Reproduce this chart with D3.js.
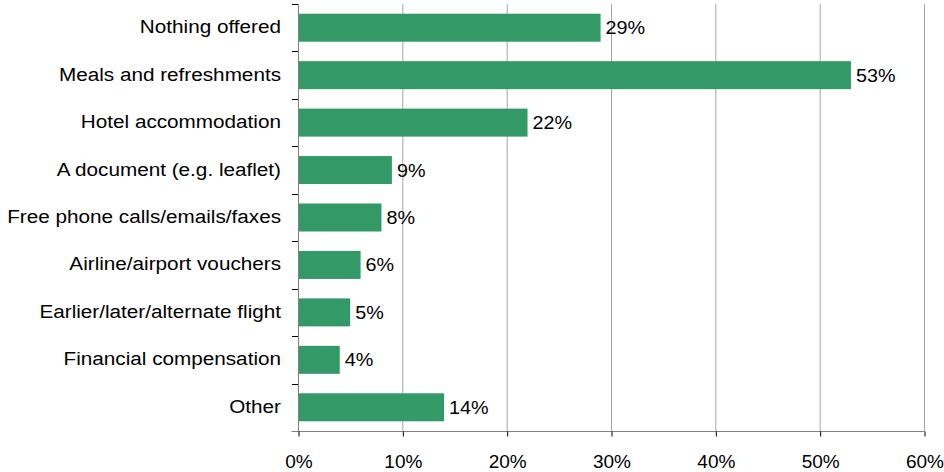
<!DOCTYPE html>
<html>
<head>
<meta charset="utf-8">
<script src="https://cdn.jsdelivr.net/npm/d3@7"></script>
<style>
  html, body { margin: 0; padding: 0; background: #fff; }
  svg { display: block; font-family: "Liberation Sans", Arial, sans-serif; }
</style>
</head>
<body>
<svg id="chart" width="944" height="472"></svg>
<script>
// What passengers were offered during the disruption (share of respondents, %)
const categories = [
  "Nothing offered",
  "Meals and refreshments",
  "Hotel accommodation",
  "A document (e.g. leaflet)",
  "Free phone calls/emails/faxes",
  "Airline/airport vouchers",
  "Earlier/later/alternate flight",
  "Financial compensation",
  "Other"
];
const values = [29, 53, 22, 9, 8, 6, 5, 4, 14];
const xTicks = [0, 10, 20, 30, 40, 50, 60];

const svg = d3.select("#chart");
const plotLeft = 298, plotRight = 924, plotTop = 4, plotBottom = 431;
const fontSize = 19;
const labelStretch = 1.09;   // slightly wide lettering for category names
const valueStretch = 1.04;
const barColor = "#339966";

const x = d3.scaleLinear().domain([0, 60]).range([plotLeft, plotRight]);
const y = d3.scaleBand().domain(categories).range([plotTop, plotBottom])
  .paddingInner(0.41).paddingOuter(0.205);

// vertical gridlines
svg.append("g")
  .selectAll("line")
  .data(xTicks.slice(1))
  .join("line")
  .attr("x1", d => x(d) + 0.5).attr("x2", d => x(d) + 0.5)
  .attr("y1", plotTop).attr("y2", plotBottom)
  .attr("stroke", "#a6a6a6").attr("stroke-width", 1);

// bars
svg.append("g")
  .selectAll("rect")
  .data(values)
  .join("rect")
  .attr("x", x(0))
  .attr("y", (d, i) => y(categories[i]))
  .attr("width", d => x(d) - x(0))
  .attr("height", y.bandwidth())
  .attr("fill", barColor);

// value labels
svg.append("g")
  .selectAll("text")
  .data(values)
  .join("text")
  .attr("transform", (d, i) =>
    `translate(${x(d) + 5},${y(categories[i]) + y.bandwidth() / 2 + 6.5}) scale(${valueStretch},1)`)
  .attr("font-size", fontSize)
  .attr("fill", "#000")
  .text(d => d + "%");

// x axis
const xAxis = d3.axisBottom(x)
  .tickValues(xTicks)
  .tickSize(5)
  .tickFormat(d => d + "%");
const gx = svg.append("g")
  .attr("transform", `translate(0.5,${plotBottom + 0.5})`)
  .call(xAxis);
gx.select(".domain").attr("stroke", "#808080").attr("d", `M${plotLeft - 7},0H${plotRight}`);
gx.selectAll(".tick line").attr("stroke", "#000");
gx.selectAll(".tick text")
  .attr("y", 36.5).attr("dy", null)
  .attr("font-size", fontSize)
  .attr("font-family", "Liberation Sans, Arial, sans-serif")
  .attr("fill", "#000");

// y axis: line plus tick marks at category boundaries
const step = y.step();
const boundaries = categories.map(c => y(c) - step * y.paddingInner() / 2);
const gy = svg.append("g");
gy.append("line")
  .attr("x1", plotLeft + 0.5).attr("x2", plotLeft + 0.5)
  .attr("y1", plotTop).attr("y2", plotBottom)
  .attr("stroke", "#808080");
gy.selectAll("line.tick")
  .data(boundaries)
  .join("line")
  .attr("class", "tick")
  .attr("x1", plotLeft - 6).attr("x2", plotLeft)
  .attr("y1", d => Math.round(d) + 0.5).attr("y2", d => Math.round(d) + 0.5)
  .attr("stroke", "#000");

// category labels
gy.selectAll("text")
  .data(categories)
  .join("text")
  .attr("transform", c =>
    `translate(281,${y(c) + y.bandwidth() / 2 + 5.5}) scale(${labelStretch},1)`)
  .attr("text-anchor", "end")
  .attr("font-size", fontSize)
  .attr("fill", "#000")
  .text(c => c);
</script>
</body>
</html>
